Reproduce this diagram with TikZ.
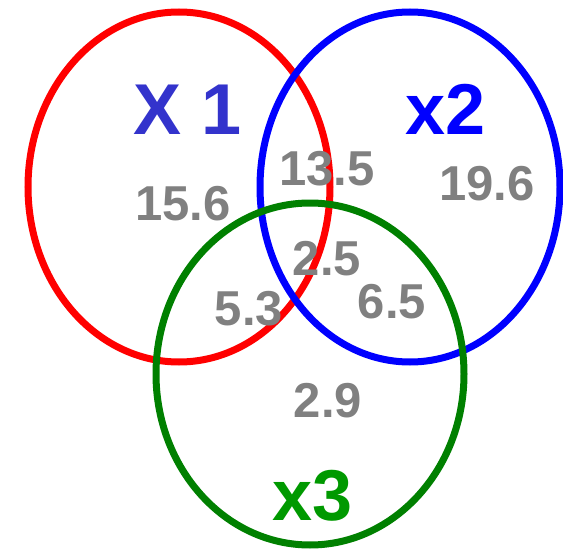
\documentclass[tikz,border=0pt]{standalone}
\usepackage{fontspec}
\setmainfont{Liberation Sans}
\usetikzlibrary{positioning}
\definecolor{setgreen}{RGB}{0,128,0}
\definecolor{labgreen}{RGB}{0,153,0}
\definecolor{labblue}{RGB}{51,51,204}

\begin{document}
\begin{tikzpicture}[x=1pt, y=-1pt, line width=7pt,
  num/.style={text=gray, font=\fontsize{49}{49}\selectfont\bfseries, anchor=base, inner sep=0pt},
  lab/.style={font=\fontsize{72}{72}\selectfont\bfseries, anchor=base, inner sep=0pt}]
  \useasboundingbox (0,0) rectangle (563,551);
  % the three sets
  \draw[red] (179,187) ellipse (151 and 175);
  \draw[blue] (410,187) ellipse (150 and 175);
  \draw[setgreen] (310,374) ellipse (154 and 171);
  % set names
  \node[lab, text=labblue] (xone) at (188,135) {X 1};
  \node[lab, text=blue] (xtwo) at (446,135) {x2};
  \node[lab, text=labgreen] (xthree) at (313,520) {x3};
  % region values
  \node[num] (v12) at (327,185) {13.5};
  \node[num] (v1) at (183,220) {15.6};
  \node[num] (v2) at (487,200) {19.6};
  \node[num] (v123) at (327,275) {2.5};
  \node[num] (v13) at (249,325) {5.3};
  \node[num] (v23) at (392,318) {6.5};
  \node[num] (v3) at (328,417) {2.9};
\end{tikzpicture}
\end{document}
